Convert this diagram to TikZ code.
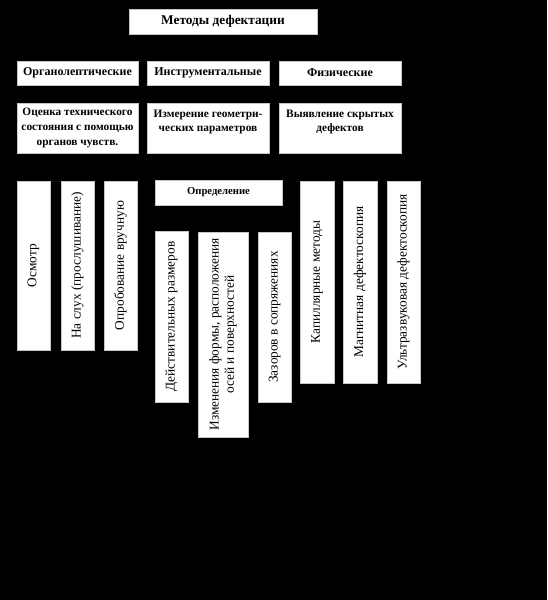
\documentclass[tikz,border=0pt]{standalone}
\usepackage{fontspec}
\setmainfont{Liberation Serif}
\usepackage{tikz}

\tikzset{
	box/.style={draw=gray!45, line width=0.5pt, fill=white, inner sep=1pt, align=center, font=\bfseries\fontsize{9}{11}\selectfont},
	sz/.style 2 args={minimum width=#1*0.75pt, minimum height=#2*0.75pt},
	vbox/.style={box, rotate=90, font=\fontsize{10}{11.5}\selectfont}
}

\begin{document}
\begin{tikzpicture}[x=0.75pt, y=-0.75pt]
				\fill[black] (0,0) rectangle (547,600);
				\useasboundingbox (0,0) rectangle (547,600);
				\node[box, sz={188}{25}, font=\bfseries\fontsize{10}{12}\selectfont] (M)at(223, 21.5) {Методы дефектации};
				\node[box, sz={121}{24}] (O)at(77.5, 73) {Органолептические};
				\node[box, sz={122}{24}] (I)at(208, 73) {Инструментальные};
				\node[box, sz={122}{24}] (F)at(340, 73) {Физические};
				\node[box, sz={121}{50}, font=\bfseries\fontsize{8.5}{11}\selectfont] (O1)at(77.5, 128) {Оценка технического\\состояния с помощью\\органов чувств.};
				\node[box, sz={122}{50}, font=\bfseries\fontsize{8.5}{11}\selectfont] (I1)at(208, 128) {Измерение геометри-\\ческих параметров\\\mbox{}};
				\node[box, sz={122}{50}, font=\bfseries\fontsize{8.5}{11}\selectfont] (F1)at(340, 128) {Выявление скрытых\\дефектов\\\mbox{}};
				\node[vbox, sz={169}{33}] (O11)at(33.5, 265.5) {Осмотр};
				\node[vbox, sz={169}{33}] (O12)at(77.5, 265.5) {На слух (прослушивание)};
				\node[vbox, sz={169}{33}] (O13)at(120.5, 265.5) {Опробование вручную};
				\node[box, sz={127}{25}, font=\bfseries\fontsize{8}{10}\selectfont] (OP)at(218.5, 192.5) {Определение};
				\node[vbox, sz={171}{33}] (I11)at(171.5, 316.5) {Действительных размеров};
				\node[vbox, sz={205}{50}] (I12)at(223, 334.5) {Изменения формы, расположения\\осей и поверхностей};
				\node[vbox, sz={170}{33}] (I13)at(274.5, 317) {Зазоров в сопряжениях};
				\node[vbox, sz={202}{34}] (F11)at(317, 282) {Капиллярные методы};
				\node[vbox, sz={202}{34}] (F12)at(360, 282) {Магнитная дефектоскопия};
				\node[vbox, sz={202}{33}] (F13)at(403.5, 282) {Ультразвуковая дефектоскопия};
			\end{tikzpicture}
\end{document}
